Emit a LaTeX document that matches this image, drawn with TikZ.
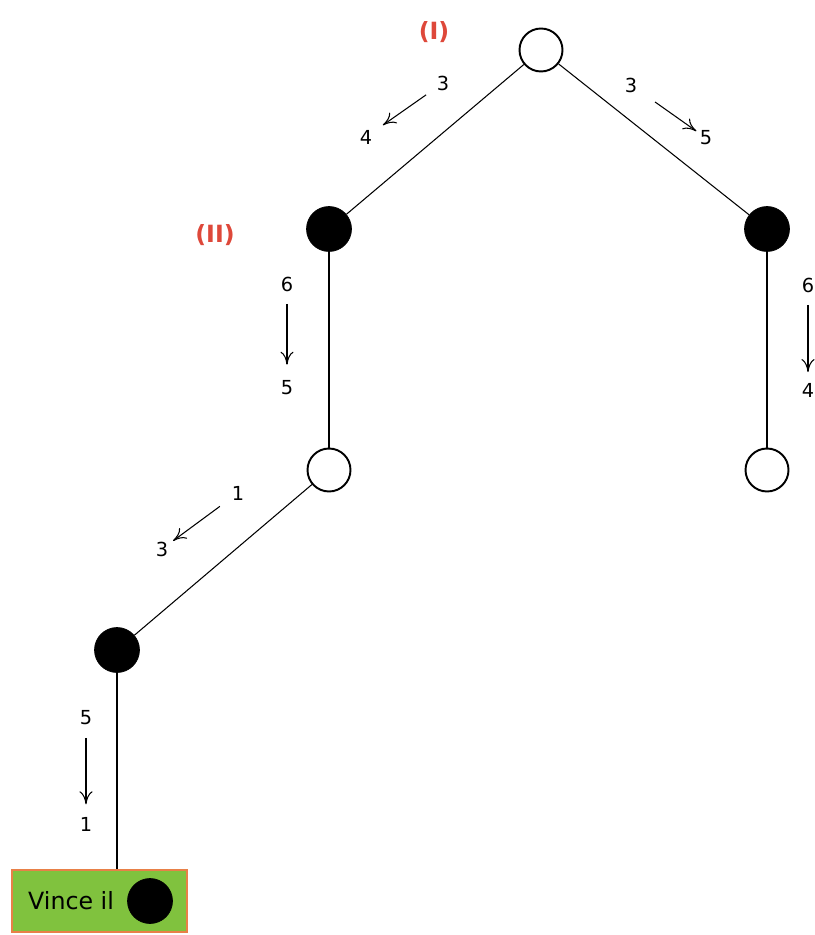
\documentclass[tikz,border=0pt]{standalone}
\usepackage{fontspec}
\setmainfont{DejaVu Sans}
\usepackage{xcolor}
\usetikzlibrary{arrows.meta}

\definecolor{winfill}{RGB}{128,194,62}
\definecolor{winedge}{RGB}{232,128,72}
\definecolor{stepred}{RGB}{222,72,58}

\begin{document}
\begin{tikzpicture}[
    x=0.02cm, y=-0.02cm,
    open/.style={draw, circle, line width=1.1pt, fill=white, minimum size=0.86cm, inner sep=0pt},
    filled/.style={draw, circle, fill=black, minimum size=0.9cm, inner sep=0pt},
    thinedge/.style={line width=0.6pt},
    thickedge/.style={line width=1.1pt},
    num/.style={font=\fontsize{11}{13}\selectfont, inner sep=1pt},
    move/.style={-{To[length=2.6mm,width=2.6mm]}, line width=0.6pt},
    tag/.style={font=\fontsize{13.5}{15}\selectfont\bfseries, text=stepred}
]
\useasboundingbox (0,0) rectangle (814,935);

% --- tree of positions ---
\node[open] (root) at (541,50) {};
\node[filled] (L1) at (329,229) {};
\node[filled] (R1) at (767,229) {};
\node[open] (L2) at (329,470) {};
\node[open] (R2) at (767,470) {};
\node[filled] (L3) at (117,650) {};

% final box
\node[draw=winedge, fill=winfill, line width=1.2pt, minimum width=3.5cm, minimum height=1.24cm] (win) at (99.5,901) {};
\node[font=\fontsize{13.5}{15}\selectfont, anchor=west] (wintext) at (22,901) {Vince il};
\node[filled] (windot) at (150,901) {};

\draw[thinedge] (root) -- (L1);
\draw[thinedge] (root) -- (R1);
\draw[thickedge] (L1) -- (L2);
\draw[thickedge] (R1) -- (R2);
\draw[thinedge] (L2) -- (L3);
\draw[thickedge] (L3.south) -- (L3.south |- win.north);

% --- move labels ---
\node[tag] (t1) at (434,32) {(I)};
\node[tag] (t2) at (215,235) {(II)};

\node[num] (a3) at (443,83) {3};
\node[num] (a4) at (366,137) {4};
\draw[move, shorten <=6pt, shorten >=6pt] (a3) -- (a4);

\node[num] (b3) at (631,85) {3};
\node[num] (b5) at (706,138) {5};
\draw[move, shorten <=11pt, shorten >=1pt] (b3) -- (b5);

\node[num] (c6) at (287,284) {6};
\node[num] (c5) at (287,388) {5};
\draw[move, shorten <=6pt, shorten >=8pt] (c6) -- (c5);

\node[num] (d6) at (808,285) {6};
\node[num] (d4) at (808,390) {4};
\draw[move, shorten <=6pt, shorten >=5pt] (d6) -- (d4);

\node[num] (e1) at (238,493) {1};
\node[num] (e3) at (162,549) {3};
\draw[move, shorten <=7pt, shorten >=2pt] (e1) -- (e3);

\node[num] (f5) at (86,718) {5};
\node[num] (f1) at (86,824) {1};
\draw[move, shorten <=6pt, shorten >=6pt] (f5) -- (f1);

\end{tikzpicture}
\end{document}
